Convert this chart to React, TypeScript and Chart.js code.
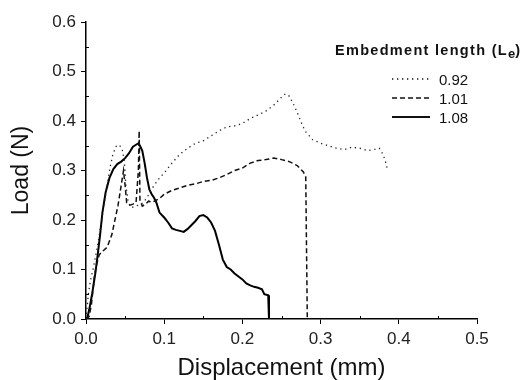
import React, { useEffect, useRef } from "react";
import { Chart, registerables } from "chart.js";

Chart.register(...registerables);

// ---- data ----
const seriesLabels = ["0.92", "1.01", "1.08"];

const disp092 = [0, 0.003, 0.006, 0.009, 0.012, 0.015, 0.018, 0.022, 0.026, 0.03, 0.034, 0.038, 0.042, 0.046, 0.049, 0.051, 0.054, 0.058, 0.063, 0.068, 0.073, 0.078, 0.083, 0.088, 0.094, 0.1, 0.11, 0.12, 0.13, 0.14, 0.15, 0.16, 0.17, 0.18, 0.19, 0.2, 0.21, 0.22, 0.23, 0.24, 0.25, 0.255, 0.26, 0.265, 0.27, 0.275, 0.28, 0.29, 0.3, 0.31, 0.32, 0.33, 0.34, 0.35, 0.36, 0.37, 0.375, 0.38, 0.383, 0.385];
const load092 = [0, 0.05, 0.08, 0.1, 0.125, 0.15, 0.18, 0.22, 0.26, 0.3, 0.33, 0.348, 0.352, 0.345, 0.32, 0.27, 0.235, 0.225, 0.228, 0.23, 0.235, 0.245, 0.26, 0.272, 0.285, 0.295, 0.315, 0.333, 0.345, 0.355, 0.36, 0.37, 0.38, 0.388, 0.39, 0.395, 0.405, 0.412, 0.42, 0.432, 0.448, 0.455, 0.45, 0.435, 0.418, 0.398, 0.38, 0.362, 0.355, 0.35, 0.345, 0.342, 0.347, 0.345, 0.34, 0.343, 0.345, 0.332, 0.318, 0.305];

const disp101 = [0, 0.004, 0.007, 0.011, 0.014, 0.017, 0.022, 0.027, 0.033, 0.037, 0.041, 0.045, 0.048, 0.05, 0.052, 0.056, 0.06, 0.064, 0.067, 0.068, 0.069, 0.072, 0.076, 0.08, 0.085, 0.09, 0.095, 0.1, 0.11, 0.12, 0.13, 0.14, 0.15, 0.16, 0.17, 0.18, 0.19, 0.2, 0.21, 0.22, 0.23, 0.24, 0.25, 0.26, 0.27, 0.278, 0.281, 0.283];
const load101 = [0, 0.005, 0.03, 0.09, 0.113, 0.13, 0.138, 0.145, 0.17, 0.2, 0.23, 0.27, 0.3, 0.27, 0.235, 0.23, 0.232, 0.235, 0.3, 0.38, 0.24, 0.228, 0.232, 0.238, 0.236, 0.24, 0.245, 0.252, 0.26, 0.265, 0.27, 0.273, 0.278, 0.28, 0.285, 0.292, 0.3, 0.305, 0.315, 0.32, 0.322, 0.325, 0.322, 0.318, 0.31, 0.297, 0.287, 0];

const disp108 = [0, 0.002, 0.004, 0.008, 0.012, 0.015, 0.018, 0.021, 0.025, 0.03, 0.035, 0.04, 0.045, 0.05, 0.055, 0.06, 0.064, 0.067, 0.069, 0.072, 0.075, 0.078, 0.081, 0.084, 0.087, 0.09, 0.094, 0.1, 0.105, 0.11, 0.115, 0.12, 0.125, 0.13, 0.135, 0.14, 0.145, 0.15, 0.155, 0.16, 0.165, 0.17, 0.175, 0.18, 0.185, 0.19, 0.195, 0.2, 0.205, 0.21, 0.215, 0.22, 0.225, 0.228, 0.233, 0.234];
const load108 = [0, 0.004, 0.018, 0.052, 0.093, 0.13, 0.17, 0.215, 0.255, 0.285, 0.303, 0.313, 0.318, 0.325, 0.335, 0.348, 0.352, 0.355, 0.35, 0.34, 0.315, 0.285, 0.262, 0.252, 0.245, 0.235, 0.215, 0.205, 0.195, 0.183, 0.18, 0.178, 0.176, 0.182, 0.19, 0.198, 0.208, 0.21, 0.205, 0.195, 0.178, 0.15, 0.12, 0.105, 0.1, 0.092, 0.086, 0.08, 0.072, 0.068, 0.065, 0.063, 0.06, 0.05, 0.048, 0];

const xMinorTicks = [0.05, 0.15, 0.25, 0.35, 0.45];
const yMinorTicks = [0.05, 0.15, 0.25, 0.35, 0.45, 0.55];

const xTitle = "Displacement (mm)";
const yTitle = "Load (N)";

const FONT = "Arial, 'Liberation Sans', Helvetica, sans-serif";

function zip(xs: number[], ys: number[]) {
  return xs.map((x, i) => ({ x, y: ys[i] }));
}

const minorTicksPlugin = {
  id: "minorTicks",
  afterDraw(chart: any) {
    const { ctx, chartArea, scales } = chart;
    const xs = scales.x;
    const ys = scales.y;
    ctx.save();
    ctx.strokeStyle = "#000";
    ctx.lineWidth = 1;
    ctx.beginPath();
    xMinorTicks.forEach((v) => {
      const px = Math.round(xs.getPixelForValue(v)) + 0.5;
      ctx.moveTo(px, chartArea.bottom);
      ctx.lineTo(px, chartArea.bottom - 3);
    });
    yMinorTicks.forEach((v) => {
      const py = Math.round(ys.getPixelForValue(v)) + 0.5;
      ctx.moveTo(chartArea.left, py);
      ctx.lineTo(chartArea.left + 3, py);
    });
    ctx.stroke();
    ctx.restore();
  },
};

function LegendSample({ dash, width }: { dash: string; width: number }) {
  return (
    <svg width={40} height={6} style={{ display: "block" }}>
      <line x1={0} y1={3} x2={38} y2={3} stroke="#111" strokeWidth={width} strokeDasharray={dash} />
    </svg>
  );
}

export default function App() {
  const canvasRef = useRef<HTMLCanvasElement | null>(null);

  useEffect(() => {
    document.body.style.margin = "0";
    const canvas = canvasRef.current;
    if (!canvas) return;
    const chart = new Chart(canvas, {
      type: "line",
      data: {
        datasets: [
          {
            label: seriesLabels[0],
            data: zip(disp092, load092),
            borderColor: "#222",
            borderWidth: 1.3,
            borderDash: [1.3, 3.7],
            pointRadius: 0,
            fill: false,
            tension: 0,
          },
          {
            label: seriesLabels[1],
            data: zip(disp101, load101),
            borderColor: "#111",
            borderWidth: 1.5,
            borderDash: [5, 3],
            pointRadius: 0,
            fill: false,
            tension: 0,
          },
          {
            label: seriesLabels[2],
            data: zip(disp108, load108),
            borderColor: "#000",
            borderWidth: 2,
            pointRadius: 0,
            fill: false,
            tension: 0,
          },
        ],
      },
      options: {
        animation: false,
        responsive: false,
        devicePixelRatio: 1,
        layout: { padding: { left: 0, top: 22, right: 50, bottom: 0 } },
        plugins: {
          legend: { display: false },
          tooltip: { enabled: false },
        },
        scales: {
          x: {
            type: "linear",
            min: 0,
            max: 0.5,
            afterFit: (s: any) => {
              s.height = 61;
            },
            ticks: {
              stepSize: 0.1,
              callback: (v: any) => Number(v).toFixed(1),
              font: { family: FONT, size: 17 },
              color: "#222",
              padding: 5,
              maxRotation: 0,
            },
            grid: {
              drawOnChartArea: false,
              drawTicks: true,
              tickLength: 5,
              color: "#000",
              lineWidth: 1,
            },
            border: { display: true, color: "#000", width: 1.5 },
            title: {
              display: true,
              text: xTitle,
              font: { family: FONT, size: 24, lineHeight: 1 },
              color: "#111",
              padding: { top: 0, bottom: 0 },
            },
          },
          y: {
            type: "linear",
            min: 0,
            max: 0.6,
            afterFit: (s: any) => {
              s.width = 86;
            },
            ticks: {
              stepSize: 0.1,
              callback: (v: any) => Number(v).toFixed(1),
              font: { family: FONT, size: 17 },
              color: "#222",
              padding: 5,
            },
            grid: {
              drawOnChartArea: false,
              drawTicks: true,
              tickLength: 5,
              color: "#000",
              lineWidth: 1,
            },
            border: { display: true, color: "#000", width: 1.5 },
            title: {
              display: true,
              text: yTitle,
              font: { family: FONT, size: 23, lineHeight: 1 },
              color: "#111",
              padding: { top: 10, bottom: 0 },
            },
          },
        },
      },
      plugins: [minorTicksPlugin],
    } as any);
    return () => chart.destroy();
  }, []);

  const rowTops = [71.8, 90.8, 109.8];
  const samples = [
    { dash: "1.3 3.7", width: 1.3 },
    { dash: "5 3", width: 1.5 },
    { dash: "", width: 2 },
  ];

  return (
    <div style={{ position: "relative", width: 527, height: 380, background: "#fff" }}>
      <canvas ref={canvasRef} width={527} height={380} style={{ display: "block" }} />
      <div
        style={{
          position: "absolute",
          left: 335,
          top: 43,
          fontFamily: FONT,
          fontWeight: "bold",
          fontSize: 14.5,
          lineHeight: 1,
          letterSpacing: 1.3,
          color: "#111",
          whiteSpace: "nowrap",
        }}
      >
        Embedment length (L
        <sub style={{ fontSize: 13, verticalAlign: "-3px", lineHeight: 0, letterSpacing: 0 }}>e</sub>)
      </div>
      {seriesLabels.map((lab, i) => (
        <div
          key={lab}
          style={{
            position: "absolute",
            left: 392,
            top: rowTops[i],
            height: 15,
            display: "flex",
            alignItems: "center",
            fontFamily: FONT,
            fontSize: 15,
            lineHeight: 1,
            color: "#111",
            whiteSpace: "nowrap",
          }}
        >
          <LegendSample dash={samples[i].dash} width={samples[i].width} />
          <span style={{ marginLeft: 7 }}>{lab}</span>
        </div>
      ))}
    </div>
  );
}
